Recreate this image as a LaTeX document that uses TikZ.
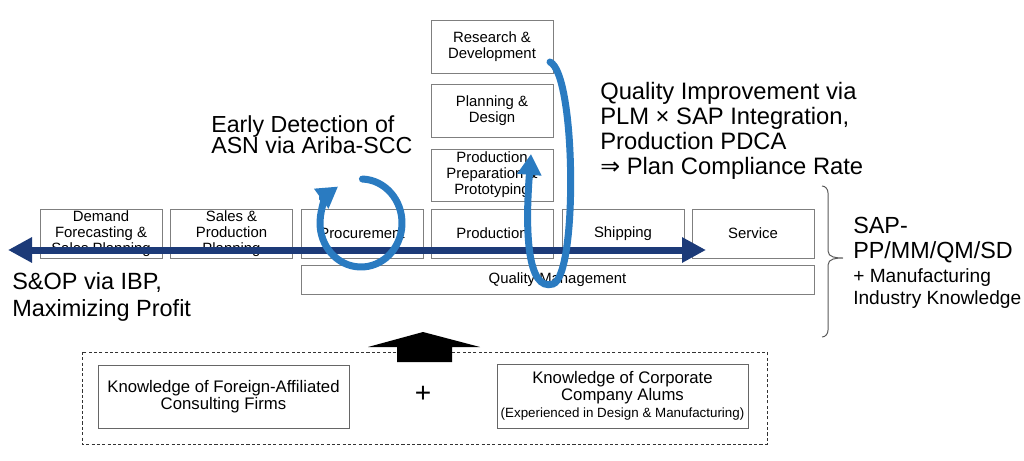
\documentclass[tikz,border=0pt]{standalone}
\usepackage{fontspec}
\setmainfont{Liberation Sans}
\newfontfamily\arrowfont{DejaVu Sans}
\usetikzlibrary{arrows.meta}

\definecolor{flownavy}{HTML}{1C3A78}
\definecolor{loopblue}{HTML}{2A7BC1}
\definecolor{boxgray}{HTML}{7F7F7F}

\tikzset{
  procbox/.style={draw=boxgray, line width=0.6pt, minimum width=3.05cm,
    minimum height=1.225cm, align=center, inner sep=1pt,
    font=\fontsize{10.6}{11.4}\selectfont},
  knowbox/.style={draw=boxgray!80!black, line width=0.6pt, minimum width=6.275cm,
    minimum height=1.575cm, align=center, inner sep=1pt,
    font=\fontsize{11.9}{12.3}\selectfont},
  bignote/.style={anchor=north west, align=left, inner sep=0pt},
  flowarrow/.style={flownavy, line width=0.175cm,
    {Triangle[width=0.6cm,length=0.6cm]}-{Triangle[width=0.6cm,length=0.6cm]}},
  looparrow/.style={loopblue, line width=0.175cm, line cap=round,
    -{Triangle[width=0.58cm,length=0.52cm]}}
}

\begin{document}
\begin{tikzpicture}[x=0.025cm, y=-0.025cm]
  \useasboundingbox (0,0) rectangle (1024,460);

  % value chain
  \node[procbox] (demand) at (101,233.5) {Demand\\Forecasting \&\\Sales Planning};
  \node[procbox] (salesprod) at (231.5,233.5) {Sales \&\\Production\\Planning};
  \node[procbox] (procure) at (362,233.5) {Procurement};
  \node[procbox] (produce) at (492,233.5) {Production};
  \node[procbox] (ship) at (623,233.5) {Shipping};
  \node[procbox] (service) at (753,233.5) {Service};
  \node[procbox, minimum width=12.825cm, minimum height=0.725cm] (quality)
    at (557.5,279.5) {Quality Management};

  % engineering stack
  \node[procbox, minimum height=1.325cm] (rnd) at (492,46.5) {Research \&\\Development};
  \node[procbox, minimum height=1.325cm] (design) at (492,110.5) {Planning \&\\Design};
  \node[procbox, minimum height=1.3cm] (proto) at (492,175) {Production\\Preparation \&\\Prototyping};

  % S&OP arrow
  \coordinate (flowL) at (8,250);
  \coordinate (flowR) at (706,250);
  \draw[flowarrow] (flowL) -- (flowR);

  % loops
  \coordinate (asnc) at (361,223);
  \draw[looparrow] (asnc) ++(-88:41 and 44)
    arc[start angle=-88, end angle=236, x radius=41, y radius=44];
  \coordinate (plmtop) at (550,62);
  \coordinate (plmend) at (531,154);
  \draw[looparrow] (plmtop) .. controls (576,74) and (578,275) .. (553,284)
    .. controls (527,292) and (525,230) .. (plmend);

  % notes
  \node[bignote, font=\fontsize{16.5}{15.5}\selectfont] (asnnote) at (211,115)
    {Early Detection of\\ASN via Ariba-SCC};
  \node[bignote, font=\fontsize{16.9}{17.8}\selectfont] (plmnote) at (600,82)
    {Quality Improvement via\\PLM × SAP Integration,\\Production PDCA\\{\arrowfont ⇒} Plan Compliance Rate};
  \node[bignote, font=\fontsize{16.7}{19.2}\selectfont] (sopnote) at (12,272)
    {S\&OP via IBP,\\Maximizing Profit};
  \node[bignote, font=\fontsize{16.6}{17.8}\selectfont] (sapnote) at (853,217)
    {SAP-\\PP/MM/QM/SD};
  \node[bignote, font=\fontsize{13.6}{15.6}\selectfont] (mfgnote) at (853,268)
    {+ Manufacturing\\Industry Knowledge};

  % brace
  \draw[black!65, line width=0.7pt] (822,186) to[out=0,in=90] (828,193) -- (828,251)
    to[out=-90,in=180] (843,258) to[out=180,in=90] (828,265) -- (828,330)
    to[out=-90,in=0] (822,337);

  % knowledge base
  \draw[black!80, line width=0.7pt, dash pattern=on 2.2pt off 1.6pt] (82,352) rectangle (767,444);
  \node[knowbox] (consult) at (223.5,396.5) {Knowledge of Foreign-Affiliated\\Consulting Firms};
  \node[knowbox, minimum height=1.6cm] (alums) at (622.5,396)
    {Knowledge of Corporate\\Company Alums\\{\fontsize{9.5}{11}\selectfont (Experienced in Design \& Manufacturing)}};
  \node[font=\fontsize{20}{20}\selectfont] (plus) at (423,394) {+};
  \fill[black] (397,362) -- (397,347) -- (368,347) -- (423,332) -- (480,347)
    -- (452,347) -- (452,362) -- cycle;
\end{tikzpicture}
\end{document}
